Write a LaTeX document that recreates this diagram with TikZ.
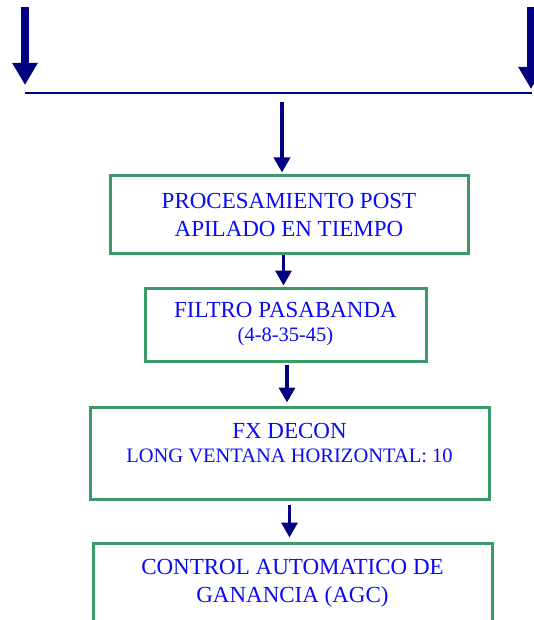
\documentclass[tikz,border=0pt]{standalone}
\usepackage{fontspec}
\setmainfont{Liberation Serif}
\usetikzlibrary{arrows.meta}
\usetikzlibrary{calc}

\definecolor{azulflecha}{RGB}{0,0,128}
\definecolor{verdecaja}{RGB}{60,153,104}
\definecolor{azultexto}{RGB}{10,10,245}

\begin{document}
\begin{tikzpicture}[x=1pt, y=-1pt]

\def\xl{25}
\def\xr{531}
\def\ytop{7}
\def\ytipl{85}
\def\ytipr{89}
\def\ybar{93}
\def\xbarl{25}
\def\xbarr{532}

\def\xin{282}
\def\yin{102}

\tikzset{caja/.style = {draw=verdecaja, line width=3pt, text=azultexto, align=center,
                        inner sep=0pt, font=\fontsize{23}{28}\selectfont}
        }
\tikzset{flecha/.style = {azulflecha, line width=3.5pt, -{Triangle[width=16pt, length=15pt]}}}
\tikzset{flechagrande/.style = {azulflecha, line width=8pt, -{Triangle[width=24pt, length=22pt]}}}
\newcommand{\sublinea}{\fontsize{20.5}{24}\selectfont}

\useasboundingbox (0,0) rectangle (534,620);
\clip (0,0) rectangle (534,620);

%entradas
\coordinate (inl)  at (\xl, \ytop);
\coordinate (outl) at (\xl, \ytipl);
\coordinate (inr)  at (\xr, \ytop);
\coordinate (outr) at (\xr, \ytipr);
\draw[flechagrande] (inl) -- (outl);
\draw[flechagrande] (inr) -- (outr);

%barra horizontal
\coordinate (barl) at (\xbarl, \ybar);
\coordinate (barr) at (\xbarr, \ybar);
\draw[azulflecha, line width=2.5pt] (barl) -- (barr);

%pasos del flujo
\node[caja, minimum width=358, minimum height=77] (post) at (289, 214.5)
     {PROCESAMIENTO POST\\APILADO EN TIEMPO};
\node[caja, minimum width=281, minimum height=73] (filtro) at (285.5, 324.5)
     {FILTRO PASABANDA\\[-4pt]{\sublinea (4-8-35-45)}};
\node[caja, minimum width=399, minimum height=92] (decon) at (289.5, 453)
     {FX DECON\\[-4pt]{\sublinea LONG VENTANA HORIZONTAL: 10\rule[-21pt]{0pt}{21pt}}};
\node[caja, minimum width=399, minimum height=80] (agc) at (292.5, 583)
     {CONTROL AUTOMATICO DE\\GANANCIA (AGC)};

%conexiones
\coordinate (entrada) at (\xin, \yin);
\draw[flecha, shorten >=2pt] (entrada) -- (entrada |- post.north);
\draw[flecha, shorten >=1pt] ([xshift=-2pt]filtro.north |- post.south) -- ([xshift=-2pt]filtro.north);
\draw[flecha, shorten <=2pt, shorten >=3pt] ([xshift=1.5pt]filtro.south) -- ([xshift=1.5pt]filtro.south |- decon.north);
\draw[flecha, shorten <=4pt, shorten >=4pt] (decon.south) -- (decon.south |- agc.north);

\end{tikzpicture}
\end{document}
